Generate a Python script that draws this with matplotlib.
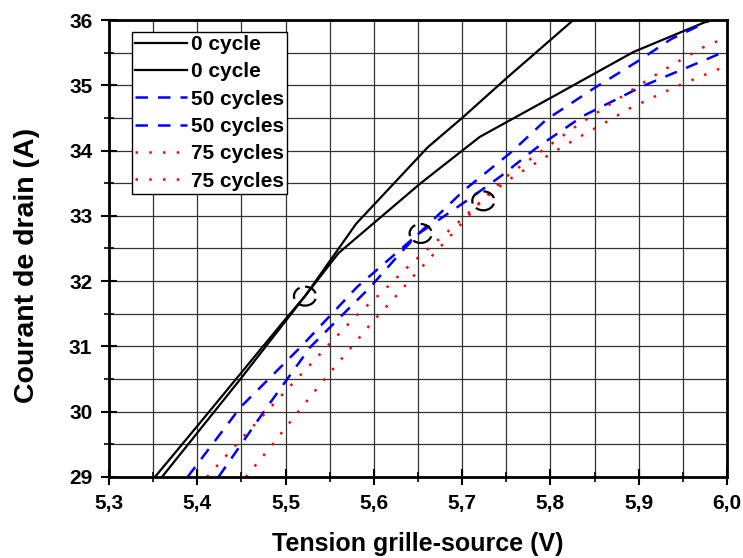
import numpy as np
import matplotlib
matplotlib.use('Agg')
import matplotlib.pyplot as plt
from matplotlib.patches import Ellipse
from matplotlib.ticker import MultipleLocator, FuncFormatter

plt.rcParams['font.family'] = ['Liberation Sans', 'DejaVu Sans']
plt.rcParams['font.weight'] = 'bold'

# 0 cycle (two devices)
v0a_x = [5.352, 5.40, 5.45, 5.50, 5.522, 5.58, 5.661, 5.70, 5.752, 5.826]
v0a_y = [29.0, 29.78, 30.60, 31.42, 31.77, 32.88, 34.05, 34.50, 35.13, 36.0]
v0b_x = [5.360, 5.45, 5.522, 5.56, 5.653, 5.720, 5.802, 5.894, 5.981]
v0b_y = [29.0, 30.52, 31.77, 32.43, 33.50, 34.21, 34.82, 35.51, 36.0]

# 50 cycles
v50a_x = [5.389, 5.449, 5.517, 5.581, 5.616, 5.651, 5.706, 5.745, 5.784, 5.837, 5.905, 6.0]
v50a_y = [29.0, 30.07, 30.99, 31.91, 32.32, 32.73, 33.24, 33.62, 34.04, 34.53, 34.99, 35.53]
v50b_x = [5.424, 5.479, 5.528, 5.596, 5.630, 5.651, 5.702, 5.756, 5.795, 5.850, 5.898, 5.937, 5.982]
v50b_y = [29.0, 30.07, 30.99, 31.91, 32.43, 32.73, 33.39, 33.98, 34.47, 34.96, 35.36, 35.71, 36.0]

# 75 cycles
v75a_x = [5.411, 5.451, 5.477, 5.503, 5.530, 5.556, 5.583, 5.610, 5.637, 5.665, 5.694, 5.722,
          5.749, 5.763, 5.804, 5.833, 5.861, 5.889, 5.917, 5.944, 5.973, 6.0]
v75a_y = [29.0, 29.60, 29.98, 30.36, 30.75, 31.13, 31.51, 31.84, 32.20, 32.54, 32.88, 33.23,
          33.52, 33.64, 33.98, 34.21, 34.42, 34.64, 34.82, 34.99, 35.15, 35.30]
v75b_x = [5.455, 5.483, 5.505, 5.528, 5.551, 5.574, 5.598, 5.623, 5.647, 5.673, 5.698, 5.722,
          5.749, 5.763, 5.804, 5.833, 5.861, 5.889, 5.917, 5.944, 5.973, 6.0]
v75b_y = [29.0, 29.46, 29.84, 30.23, 30.61, 30.98, 31.37, 31.74, 32.11, 32.49, 32.86, 33.23,
          33.59, 33.73, 34.13, 34.41, 34.65, 34.90, 35.14, 35.36, 35.58, 35.74]

# crossing points circled on the chart
cross_x = [5.522, 5.653, 5.724]
cross_y = [31.77, 32.73, 33.23]

fig = plt.figure(figsize=(7.43, 5.58), dpi=100)
ax = fig.add_axes([109/743, 1-477/558, 618/743, 457/558])

ax.plot(v0a_x, v0a_y, 'k-', lw=1.6, label='0 cycle')
ax.plot(v0b_x, v0b_y, 'k-', lw=1.6, label='0 cycle')
ax.plot(v50a_x, v50a_y, color='blue', lw=1.8, ls=(0, (5, 4)), label='50 cycles')
ax.plot(v50b_x, v50b_y, color='blue', lw=1.8, ls=(0, (5, 4)), label='50 cycles')
ax.plot(v75a_x, v75a_y, color='red', lw=1.8, ls=(0, (1, 4.5)), label='75 cycles')
ax.plot(v75b_x, v75b_y, color='red', lw=1.8, ls=(0, (1, 4.5)), label='75 cycles')

for cx, cy in zip(cross_x, cross_y):
    ax.add_patch(Ellipse((cx, cy), 0.025, 0.29, fill=False, ec='k', lw=1.6,
                         ls=(0, (6, 2.5)), zorder=5))

ax.set_xlim(5.3, 6.0)
ax.set_ylim(29, 36)
ax.xaxis.set_major_locator(MultipleLocator(0.1))
ax.xaxis.set_minor_locator(MultipleLocator(0.05))
ax.yaxis.set_major_locator(MultipleLocator(1))
ax.yaxis.set_minor_locator(MultipleLocator(0.5))
ax.xaxis.set_major_formatter(FuncFormatter(lambda v, p: ('%.1f' % v).replace('.', ',')))
ax.yaxis.set_major_formatter(FuncFormatter(lambda v, p: '%d' % round(v)))

ax.grid(True, which='both', color='0.2', lw=0.9)
ax.set_axisbelow(True)
ax.tick_params(which='major', direction='inout', length=12, width=1.5, labelsize=15, pad=6)
ax.tick_params(which='minor', direction='inout', length=7, width=1.2)
for s in ax.spines.values():
    s.set_linewidth(2)

ax.set_xlabel('Tension grille-source (V)', fontsize=18, fontweight='bold', labelpad=14)
ax.set_ylabel('Courant de drain (A)', fontsize=20.5, fontweight='bold')
ax.yaxis.set_label_coords(-0.112, 0.462)

leg = ax.legend(loc='upper left', bbox_to_anchor=(0.037, 0.974), borderaxespad=0,
                fontsize=15, handlelength=2.5, handletextpad=0.2, labelspacing=0.4,
                borderpad=0.15, fancybox=False, framealpha=1, edgecolor='k')
leg.get_frame().set_linewidth(1.0)

fig.savefig('out.png', dpi=100)
